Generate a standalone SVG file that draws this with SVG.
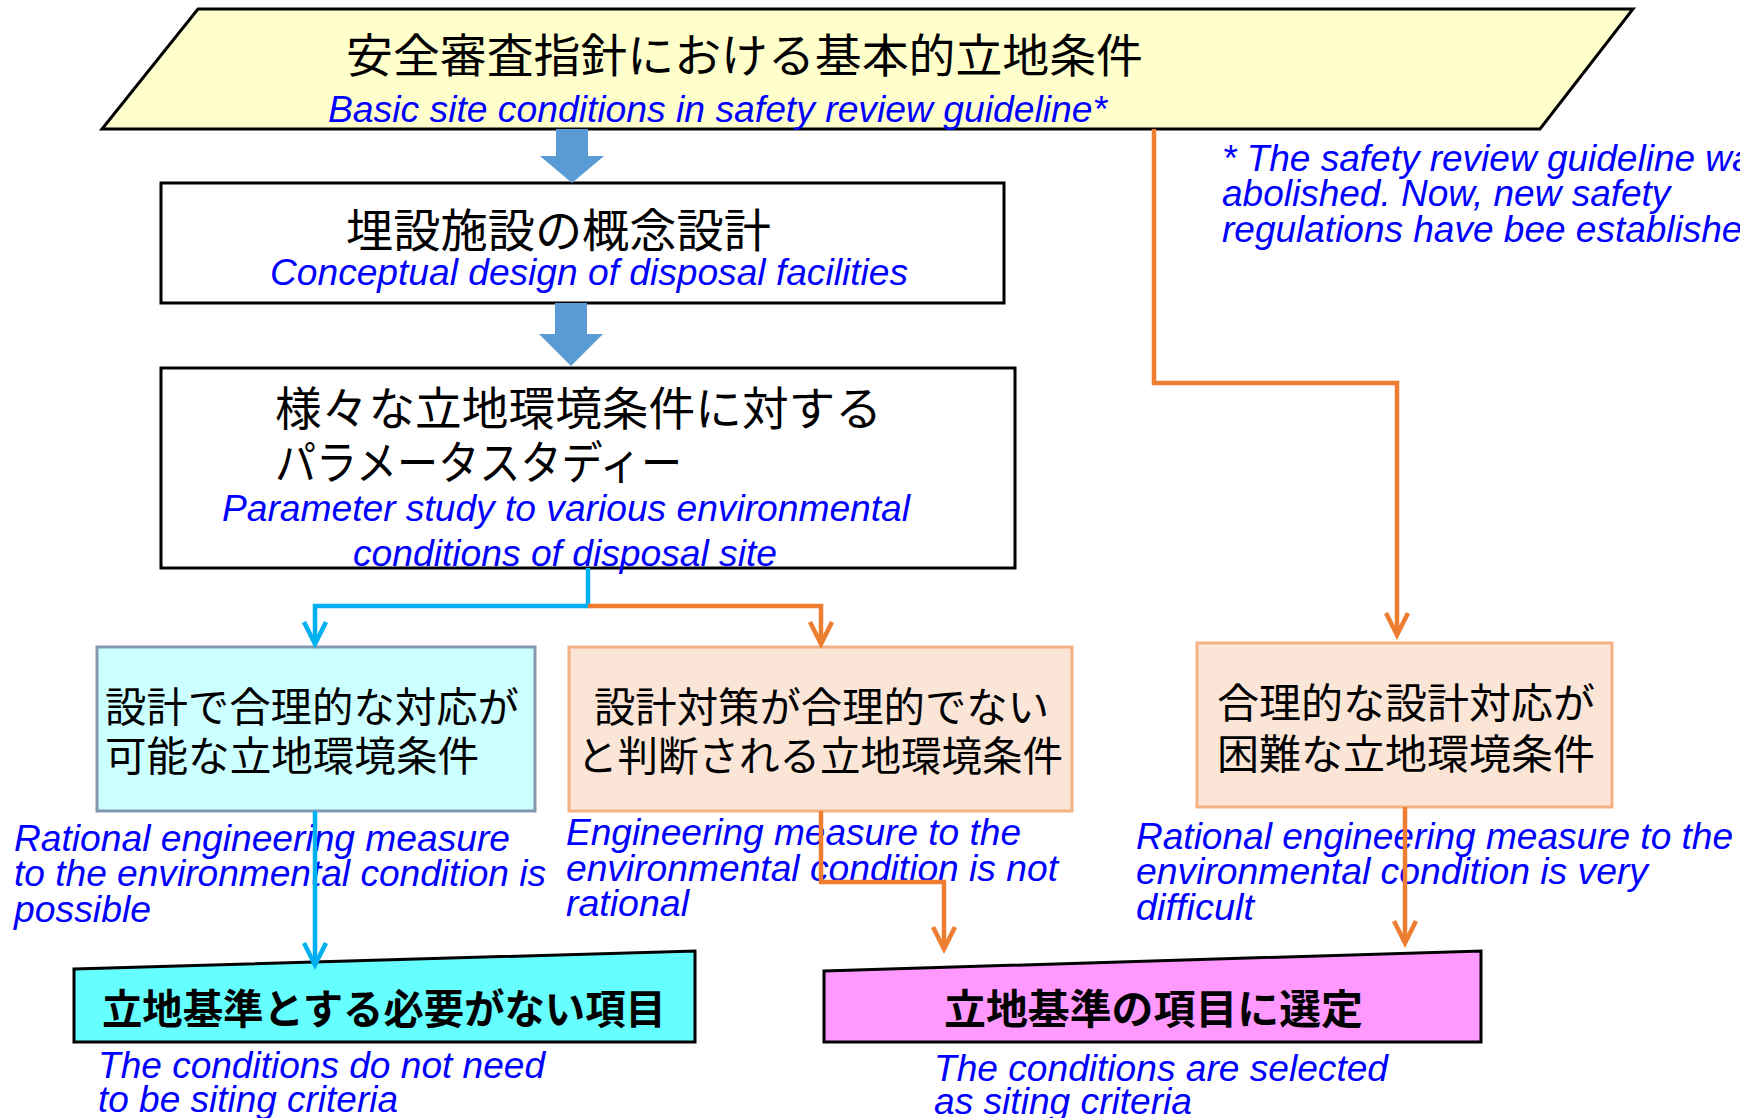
<svg xmlns="http://www.w3.org/2000/svg" width="1740" height="1118" viewBox="0 0 1740 1118">
<style>
.jp{font-family:"Noto Sans CJK JP","Noto Sans CJK SC",sans-serif;fill:#000;}
.en{font-family:"Liberation Sans",Arial,sans-serif;font-style:italic;fill:#0000FF;font-size:37px;}
.blk{stroke:#000;stroke-width:3;}
.cy{fill:none;stroke:#00B0F0;stroke-width:4.5;}
.or{fill:none;stroke:#ED7D31;stroke-width:4.5;}
.big{fill:#5B9BD5;}
</style>
<defs>
<marker id="aC" markerUnits="userSpaceOnUse" markerWidth="40" markerHeight="40" refX="0" refY="0" orient="auto" overflow="visible" viewBox="-30 -20 40 40">
<path d="M -22,-11 L 0,0 L -22,11" fill="none" stroke="#00B0F0" stroke-width="4.5"/>
</marker>
<marker id="aO" markerUnits="userSpaceOnUse" markerWidth="40" markerHeight="40" refX="0" refY="0" orient="auto" overflow="visible" viewBox="-30 -20 40 40">
<path d="M -22,-11 L 0,0 L -22,11" fill="none" stroke="#ED7D31" stroke-width="4.5"/>
</marker>
</defs>
<rect width="1740" height="1118" fill="#fff"/>

<g id="n-basic">
<polygon class="blk" points="198,9 1633,9 1540,129 102,129" fill="#FFFFCC"/>
<text class="jp" x="346" y="72" font-size="46" textLength="797" lengthAdjust="spacingAndGlyphs">安全審査指針における基本的立地条件</text>
<text class="en" x="328" y="122" textLength="779" lengthAdjust="spacingAndGlyphs">Basic site conditions in safety review guideline*</text>
</g>

<g id="n-note">
<text class="en" x="1222" y="171">* The safety review guideline was</text>
<text class="en" x="1222" y="206">abolished. Now, new safety</text>
<text class="en" x="1222" y="242">regulations have bee established.</text>
</g>

<g id="n-concept">
<rect class="blk" x="161" y="183" width="843" height="120" fill="#fff"/>
<text class="jp" x="346" y="247" font-size="46" textLength="425" lengthAdjust="spacingAndGlyphs">埋設施設の概念設計</text>
<text class="en" x="270" y="285" textLength="638" lengthAdjust="spacingAndGlyphs">Conceptual design of disposal facilities</text>
</g>

<g id="n-param">
<rect class="blk" x="161" y="368" width="854" height="200" fill="#fff"/>
<text class="jp" x="275" y="425" font-size="46" textLength="607" lengthAdjust="spacingAndGlyphs">様々な立地環境条件に対する</text>
<text class="jp" x="275" y="479" font-size="46" textLength="407" lengthAdjust="spacingAndGlyphs">パラメータスタディー</text>
<text class="en" x="222" y="521" textLength="688" lengthAdjust="spacingAndGlyphs">Parameter study to various environmental</text>
<text class="en" x="353" y="566" textLength="424" lengthAdjust="spacingAndGlyphs">conditions of disposal site</text>
</g>

<g id="n-possible">
<rect x="97" y="647" width="438" height="164" fill="#CCFFFF" stroke="#8497B0" stroke-width="3"/>
<text class="jp" x="105" y="722" font-size="41" textLength="414" lengthAdjust="spacingAndGlyphs">設計で合理的な対応が</text>
<text class="jp" x="105" y="771" font-size="41" textLength="374" lengthAdjust="spacingAndGlyphs">可能な立地環境条件</text>
<text class="en" x="14" y="851" textLength="496" lengthAdjust="spacingAndGlyphs">Rational engineering measure</text>
<text class="en" x="14" y="886" textLength="532" lengthAdjust="spacingAndGlyphs">to the environmental condition is</text>
<text class="en" x="14" y="922" textLength="137" lengthAdjust="spacingAndGlyphs">possible</text>
</g>

<g id="n-notrational">
<rect x="569" y="647" width="503" height="164" fill="#FBE5D6" stroke="#F4B183" stroke-width="3"/>
<text class="jp" x="594" y="722" font-size="41" textLength="455" lengthAdjust="spacingAndGlyphs">設計対策が合理的でない</text>
<text class="jp" x="577" y="771" font-size="41" textLength="486" lengthAdjust="spacingAndGlyphs">と判断される立地環境条件</text>
<text class="en" x="566" y="845" textLength="455" lengthAdjust="spacingAndGlyphs">Engineering measure to the</text>
<text class="en" x="566" y="881" textLength="492" lengthAdjust="spacingAndGlyphs">environmental condition is not</text>
<text class="en" x="566" y="916" textLength="123" lengthAdjust="spacingAndGlyphs">rational</text>
</g>

<g id="n-difficult">
<rect x="1197" y="643" width="415" height="164" fill="#FBE5D6" stroke="#F4B183" stroke-width="3"/>
<text class="jp" x="1217" y="718" font-size="41" textLength="378" lengthAdjust="spacingAndGlyphs">合理的な設計対応が</text>
<text class="jp" x="1217" y="769" font-size="41" textLength="378" lengthAdjust="spacingAndGlyphs">困難な立地環境条件</text>
<text class="en" x="1136" y="849" textLength="597" lengthAdjust="spacingAndGlyphs">Rational engineering measure to the</text>
<text class="en" x="1136" y="884" textLength="512" lengthAdjust="spacingAndGlyphs">environmental condition is very</text>
<text class="en" x="1136" y="920" textLength="118" lengthAdjust="spacingAndGlyphs">difficult</text>
</g>

<g id="n-noneed">
<polygon class="blk" points="74,969 695,951 695,1042 74,1042" fill="#66FFFF"/>
<text class="jp" x="102" y="1024" font-size="41" font-weight="bold" textLength="564" lengthAdjust="spacingAndGlyphs">立地基準とする必要がない項目</text>
<text class="en" x="98" y="1078" textLength="447" lengthAdjust="spacingAndGlyphs">The conditions do not need</text>
<text class="en" x="98" y="1112" textLength="300" lengthAdjust="spacingAndGlyphs">to be siting criteria</text>
</g>

<g id="n-selected">
<polygon class="blk" points="824,971 1481,951 1481,1042 824,1042" fill="#FF99FF"/>
<text class="jp" x="944" y="1024" font-size="41" font-weight="bold" textLength="419" lengthAdjust="spacingAndGlyphs">立地基準の項目に選定</text>
<text class="en" x="934" y="1081" textLength="454" lengthAdjust="spacingAndGlyphs">The conditions are selected</text>
<text class="en" x="934" y="1114" textLength="258" lengthAdjust="spacingAndGlyphs">as siting criteria</text>
</g>

<g id="connectors">
<polygon class="big" points="556,129 588,129 588,156 604,156 572,183 540,156 556,156"/>
<polygon class="big" points="555,303 587,303 587,334 603,334 571,366 539,334 555,334"/>
<path class="cy" d="M 588 568 V 606 H 315 V 644" marker-end="url(#aC)"/>
<path class="or" d="M 588 606 H 821 V 644" marker-end="url(#aO)"/>
<path class="or" d="M 1154 129 V 383 H 1397 V 635" marker-end="url(#aO)"/>
<path class="cy" d="M 315 811 V 965" marker-end="url(#aC)"/>
<path class="or" d="M 821 811 V 882 H 944 V 949" marker-end="url(#aO)"/>
<path class="or" d="M 1405 807 V 943" marker-end="url(#aO)"/>
</g>
</svg>
